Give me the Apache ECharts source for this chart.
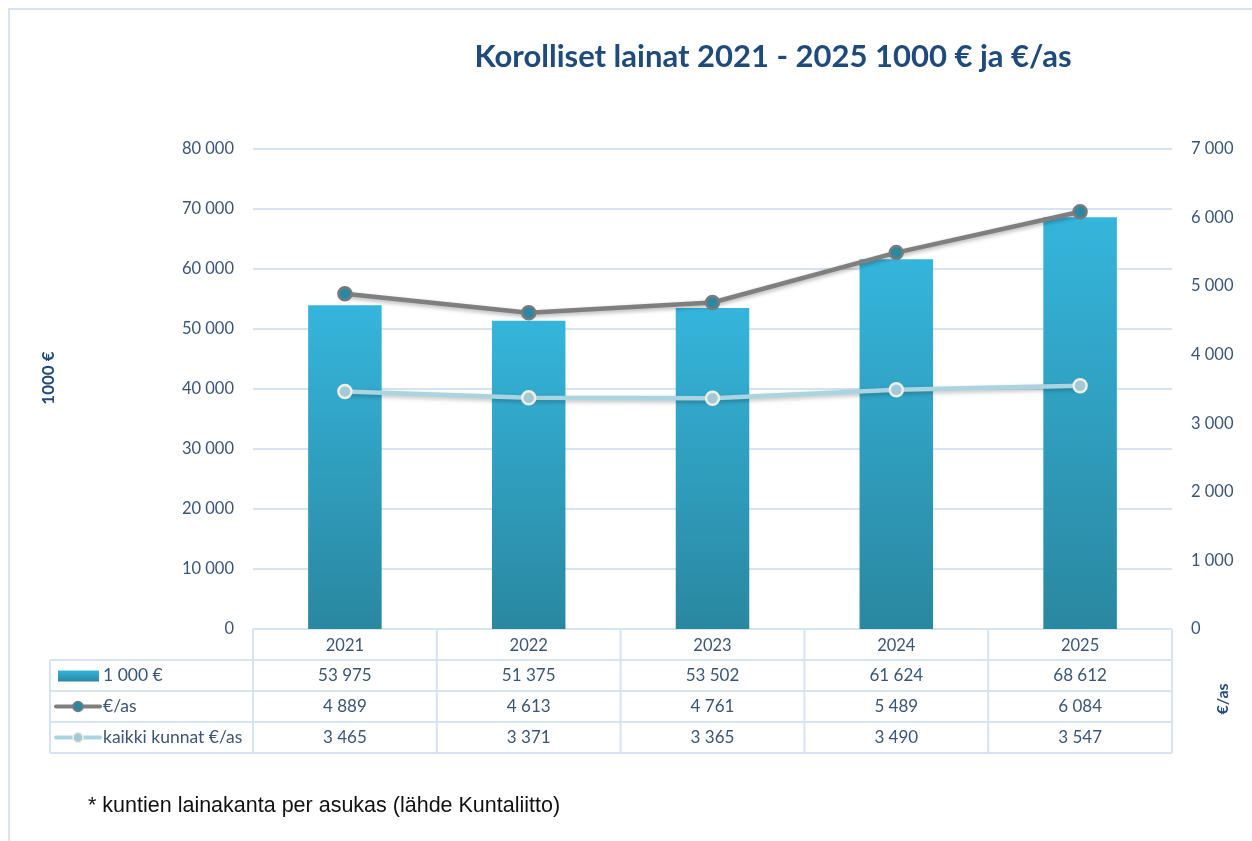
<!DOCTYPE html>
<html><head><meta charset="utf-8">
<script src="https://cdn.jsdelivr.net/npm/echarts@6/dist/echarts.min.js"></script>
<style>html,body{margin:0;padding:0;background:#fff}#c{width:1252px;height:841px}</style>
</head><body><div id="c"></div>
<script>
const categories = ['2021', '2022', '2023', '2024', '2025'];
const loans = [53975, 51375, 53502, 61624, 68612];
const perCapita = [4889, 4613, 4761, 5489, 6084];
const allMunicipalities = [3465, 3371, 3365, 3490, 3547];
const seriesNames = ['1 000 €', '€/as', 'kaikki kunnat €/as'];
const titleText = 'Korolliset lainat 2021 - 2025 1000 € ja €/as';
const leftAxisName = '1000 €';
const rightAxisName = '€/as';
const footnote = '* kuntien lainakanta per asukas (lähde Kuntaliitto)';

const FONT = 'Lato, "Open Sans", sans-serif';
const TXT = '#3b5578';
const GRIDLINE = '#d6e3f3';
const fmt = v => String(v).replace(/\B(?=(\d{3})+(?!\d))/g, ' ');

const barGrad = new echarts.graphic.LinearGradient(0, 0, 0, 1, [
  { offset: 0, color: '#35b5dc' }, { offset: 1, color: '#2a87a0' }
]);

const chart = echarts.init(document.getElementById('c'), null, { renderer: 'canvas' });
const grid = { left: 253, right: 80, top: 149, bottom: 212 };
chart.setOption({
  animation: false,
  backgroundColor: '#fff',
  grid: grid,
  xAxis: {
    type: 'category', data: categories, boundaryGap: true,
    axisLine: { show: false }, axisTick: { show: false },
    axisLabel: { color: TXT, fontFamily: FONT, fontSize: 16.5, margin: 8 }
  },
  yAxis: [
    { type: 'value', min: 0, max: 80000, interval: 10000,
      axisLine: { show: false }, axisTick: { show: false },
      splitLine: { lineStyle: { color: GRIDLINE, width: 2 } },
      axisLabel: { color: TXT, fontFamily: FONT, fontSize: 16.5, margin: 19, formatter: fmt } },
    { type: 'value', min: 0, max: 7000, interval: 1000,
      axisLine: { show: false }, axisTick: { show: false }, splitLine: { show: false },
      axisLabel: { color: TXT, fontFamily: FONT, fontSize: 16.5, margin: 19, formatter: fmt } }
  ],
  series: [
    { name: seriesNames[0], type: 'bar', data: loans, barWidth: '40%', z: 2,
      itemStyle: { color: barGrad, shadowColor: 'rgba(0,0,0,0.25)', shadowBlur: 4, shadowOffsetX: 1, shadowOffsetY: 1 } },
    { name: seriesNames[1], type: 'line', yAxisIndex: 1, data: perCapita, z: 4,
      symbol: 'circle', symbolSize: 13,
      lineStyle: { color: '#7f7f7f', width: 4.5, shadowColor: 'rgba(0,0,0,0.3)', shadowBlur: 4, shadowOffsetY: 2 },
      itemStyle: { color: '#2b88a3', borderColor: '#7a7a7a', borderWidth: 2.5 } },
    { name: seriesNames[2], type: 'line', yAxisIndex: 1, data: allMunicipalities, z: 4,
      symbol: 'circle', symbolSize: 13,
      lineStyle: { color: '#a9d4e0', width: 4.5, shadowColor: 'rgba(0,0,0,0.25)', shadowBlur: 4, shadowOffsetY: 2 },
      itemStyle: { color: '#a3c9d6', borderColor: '#eeeee4', borderWidth: 2.5 } }
  ]
});

// Data table below the plot, positioned from the axis scales
function buildGraphic() {
  const g = [];
  const y0 = chart.convertToPixel({ yAxisIndex: 0 }, 0);
  const xL = grid.left, xR = 1252 - grid.right;
  const bandW = (xR - xL) / categories.length;
  const rowH = 31, tableLeft = 50;
  const lineStyle = { stroke: GRIDLINE, lineWidth: 2 };
  // outer frame
  g.push({ type: 'rect', shape: { x: 9, y: 9, width: 1260, height: 860 }, style: { fill: null, stroke: GRIDLINE, lineWidth: 2 }, silent: true });
  // title
  g.push({ type: 'text', x: 773, y: 57,
    style: { text: titleText, fill: '#1f4a7c', font: 'bold 31px ' + FONT, align: 'center', verticalAlign: 'middle' } });
  // horizontal lines
  g.push({ type: 'line', shape: { x1: xL, y1: y0, x2: xR, y2: y0 }, style: lineStyle });
  for (let r = 1; r <= 4; r++) {
    const y = y0 + rowH * r;
    g.push({ type: 'line', shape: { x1: tableLeft, y1: y, x2: xR, y2: y }, style: lineStyle });
  }
  // vertical lines
  for (let c = 0; c <= categories.length; c++) {
    const x = xL + bandW * c;
    g.push({ type: 'line', shape: { x1: x, y1: y0, x2: x, y2: y0 + rowH * 4 }, style: lineStyle });
  }
  g.push({ type: 'line', shape: { x1: tableLeft, y1: y0 + rowH, x2: tableLeft, y2: y0 + rowH * 4 }, style: lineStyle });
  // values
  const rows = [loans, perCapita, allMunicipalities];
  rows.forEach((arr, r) => {
    arr.forEach((v, i) => {
      const cx = chart.convertToPixel({ xAxisIndex: 0 }, categories[i]);
      g.push({ type: 'text', x: cx, y: y0 + rowH * (r + 1) + rowH / 2,
        style: { text: fmt(v), fill: TXT, font: '17px ' + FONT, align: 'center', verticalAlign: 'middle' } });
    });
    const cy = y0 + rowH * (r + 1) + rowH / 2;
    g.push({ type: 'text', x: 103, y: cy,
      style: { text: seriesNames[r], fill: TXT, font: '17.5px ' + FONT, align: 'left', verticalAlign: 'middle' } });
  });
  // legend keys
  let cy = y0 + rowH * 1.5;
  g.push({ type: 'rect', shape: { x: 58, y: cy - 5, width: 41, height: 11 }, style: { fill: barGrad } });
  cy = y0 + rowH * 2.5;
  g.push({ type: 'line', shape: { x1: 56, y1: cy, x2: 100, y2: cy }, style: { stroke: '#7f7f7f', lineWidth: 4, lineCap: 'round' } });
  g.push({ type: 'circle', shape: { cx: 78, cy: cy, r: 5 }, style: { fill: '#2b88a3', stroke: '#7a7a7a', lineWidth: 1.5 } });
  cy = y0 + rowH * 3.5;
  g.push({ type: 'line', shape: { x1: 56, y1: cy, x2: 100, y2: cy }, style: { stroke: '#a9d4e0', lineWidth: 4, lineCap: 'round' } });
  g.push({ type: 'circle', shape: { cx: 78, cy: cy, r: 5 }, style: { fill: '#a3c9d6', stroke: '#eeeee4', lineWidth: 1.5 } });
  // axis names
  g.push({ type: 'text', x: 49, y: 378, rotation: Math.PI / 2,
    style: { text: leftAxisName, fill: '#1f4a7c', font: 'bold 17px ' + FONT, align: 'center', verticalAlign: 'middle' } });
  g.push({ type: 'text', x: 1223, y: 699, rotation: Math.PI / 2,
    style: { text: rightAxisName, fill: '#1f4a7c', font: 'bold 16px ' + FONT, align: 'center', verticalAlign: 'middle' } });
  // footnote
  g.push({ type: 'text', x: 88, y: 806,
    style: { text: footnote, fill: '#111', font: '21.5px "Liberation Sans", Arial, sans-serif', align: 'left', verticalAlign: 'middle' } });
  chart.setOption({ graphic: g });
}
buildGraphic();
</script>
</body></html>
